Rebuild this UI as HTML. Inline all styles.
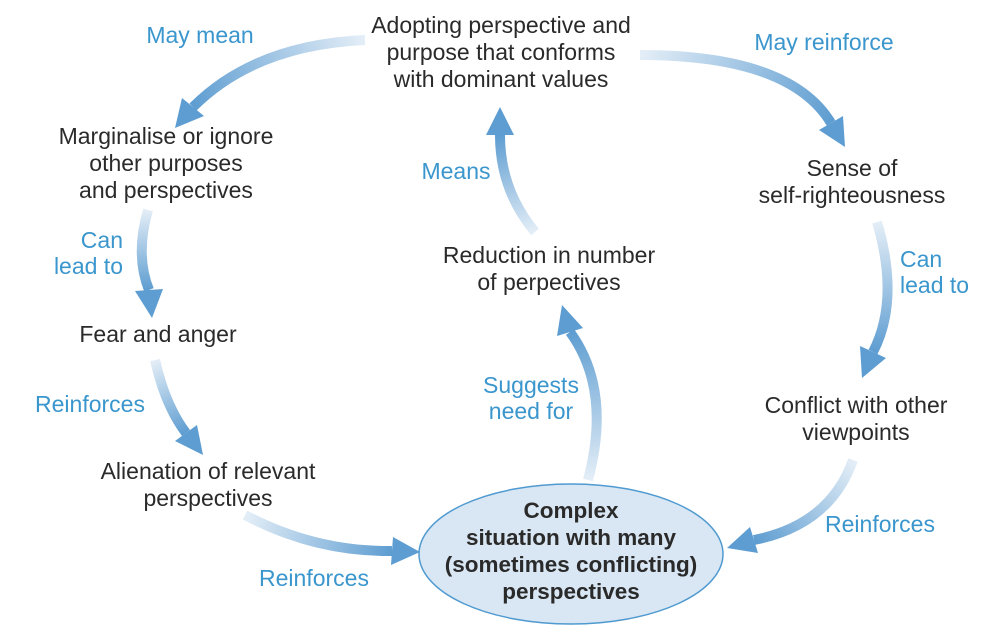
<!DOCTYPE html>
<html><head><meta charset="utf-8"><style>
html,body{margin:0;padding:0;background:#fff;}
svg{display:block;}
.t{font-family:"Liberation Sans",Arial,sans-serif;font-size:23px;fill:#2a2a2a;text-anchor:middle;}
.l{font-family:"Liberation Sans",Arial,sans-serif;font-size:23px;fill:#3a96cd;text-anchor:middle;}
.b{font-weight:bold;fill:#2a2a2a;font-size:22.5px;}
path.a{fill:none;stroke-width:10;stroke-linecap:butt;}
polygon{fill:#5e9dd1;}
</style></head><body>
<svg width="1000" height="640" viewBox="0 0 1000 640" xmlns="http://www.w3.org/2000/svg">
<defs>
<linearGradient id="g1" gradientUnits="userSpaceOnUse" x1="365" y1="40" x2="193" y2="107"><stop offset="0" stop-color="#e4eef7"/><stop offset="1" stop-color="#5e9dd1"/></linearGradient>
<linearGradient id="g2" gradientUnits="userSpaceOnUse" x1="148" y1="210" x2="149" y2="290"><stop offset="0" stop-color="#e4eef7"/><stop offset="1" stop-color="#5e9dd1"/></linearGradient>
<linearGradient id="g3" gradientUnits="userSpaceOnUse" x1="155" y1="360" x2="186" y2="433"><stop offset="0" stop-color="#e4eef7"/><stop offset="1" stop-color="#5e9dd1"/></linearGradient>
<linearGradient id="g4" gradientUnits="userSpaceOnUse" x1="245" y1="515" x2="392" y2="551"><stop offset="0" stop-color="#e4eef7"/><stop offset="1" stop-color="#5e9dd1"/></linearGradient>
<linearGradient id="g5" gradientUnits="userSpaceOnUse" x1="588" y1="480" x2="570" y2="332"><stop offset="0" stop-color="#e4eef7"/><stop offset="1" stop-color="#5e9dd1"/></linearGradient>
<linearGradient id="g6" gradientUnits="userSpaceOnUse" x1="535" y1="232" x2="500" y2="135"><stop offset="0" stop-color="#e4eef7"/><stop offset="1" stop-color="#5e9dd1"/></linearGradient>
<linearGradient id="g7" gradientUnits="userSpaceOnUse" x1="640" y1="55" x2="831" y2="123"><stop offset="0" stop-color="#e4eef7"/><stop offset="1" stop-color="#5e9dd1"/></linearGradient>
<linearGradient id="g8" gradientUnits="userSpaceOnUse" x1="877" y1="222" x2="873" y2="352"><stop offset="0" stop-color="#e4eef7"/><stop offset="1" stop-color="#5e9dd1"/></linearGradient>
<linearGradient id="g9" gradientUnits="userSpaceOnUse" x1="853" y1="460" x2="754" y2="540"><stop offset="0" stop-color="#e4eef7"/><stop offset="1" stop-color="#5e9dd1"/></linearGradient>
</defs>

<path class="a" stroke="url(#g1)" d="M365,40 Q255,45 193,107"/>
<polygon points="175,128 204,116 182,98"/>
<path class="a" stroke="url(#g2)" d="M148,210 Q135,255 149,290"/>
<polygon points="152,318 163,289 135,291"/>
<path class="a" stroke="url(#g3)" d="M155,360 Q165,405 186,433"/>
<polygon points="203,455 197,425 175,441"/>
<path class="a" stroke="url(#g4)" d="M245,515 Q315,552 392,551"/>
<polygon points="420,552 391,565 393,537"/>
<path class="a" stroke="url(#g5)" d="M588,480 Q612,390 570,332"/>
<polygon points="562,305 583,328 557,336"/>
<path class="a" stroke="url(#g6)" d="M535,232 Q500,190 500,135"/>
<polygon points="500,107 514,135 486,135"/>
<path class="a" stroke="url(#g7)" d="M640,55 Q790,55 831,123"/>
<polygon points="845,147 843,116 819,130"/>
<path class="a" stroke="url(#g8)" d="M877,222 Q900,300 873,352"/>
<polygon points="862,378 886,358 860,346"/>
<path class="a" stroke="url(#g9)" d="M853,460 Q830,525 754,540"/>
<polygon points="727,548 758,553 750,527"/>

<ellipse cx="571" cy="554" rx="152" ry="70" fill="#d9e6f3" stroke="#4f9ad0" stroke-width="1.5"/>
<text class="t b" x="571" y="518">Complex</text>
<text class="t b" x="571" y="545">situation with many</text>
<text class="t b" x="571" y="572">(sometimes conflicting)</text>
<text class="t b" x="571" y="599">perspectives</text>

<text class="t" x="501" y="33">Adopting perspective and</text>
<text class="t" x="501" y="60">purpose that conforms</text>
<text class="t" x="501" y="87">with dominant values</text>

<text class="t" x="166" y="144">Marginalise or ignore</text>
<text class="t" x="166" y="171">other purposes</text>
<text class="t" x="166" y="198">and perspectives</text>

<text class="t" x="158" y="342">Fear and anger</text>

<text class="t" x="208" y="479">Alienation of relevant</text>
<text class="t" x="208" y="506">perspectives</text>

<text class="t" x="549" y="263">Reduction in number</text>
<text class="t" x="549" y="290">of perpectives</text>

<text class="t" x="852" y="176">Sense of</text>
<text class="t" x="852" y="203">self-righteousness</text>

<text class="t" x="856" y="413">Conflict with other</text>
<text class="t" x="856" y="440">viewpoints</text>

<text class="l" x="200" y="43">May mean</text>
<text class="l" x="824" y="50">May reinforce</text>
<text class="l" x="123" y="248" style="text-anchor:end">Can</text>
<text class="l" x="123" y="274" style="text-anchor:end">lead to</text>
<text class="l" x="90" y="412">Reinforces</text>
<text class="l" x="314" y="586">Reinforces</text>
<text class="l" x="456" y="179">Means</text>
<text class="l" x="531" y="393">Suggests</text>
<text class="l" x="531" y="419">need for</text>
<text class="l" x="900" y="267" style="text-anchor:start">Can</text>
<text class="l" x="900" y="293" style="text-anchor:start">lead to</text>
<text class="l" x="880" y="532">Reinforces</text>
</svg>
</body></html>
